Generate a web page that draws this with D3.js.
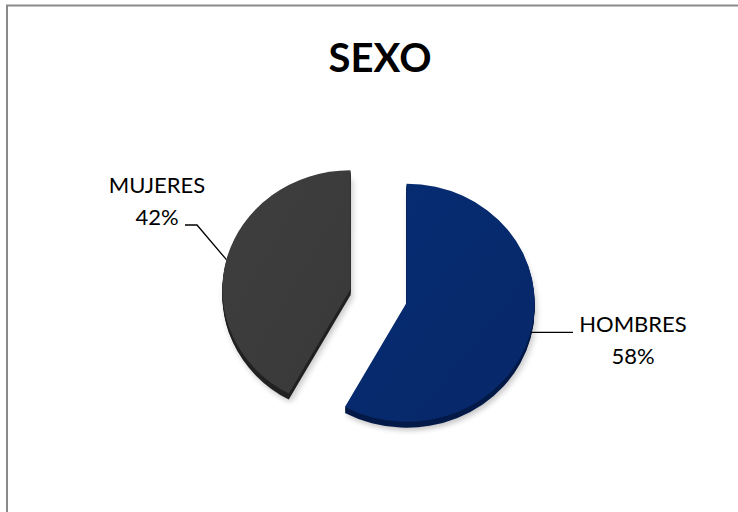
<!DOCTYPE html>
<html>
<head>
<meta charset="utf-8">
<script src="https://cdn.jsdelivr.net/npm/d3@7"></script>
<style>
  html, body { margin: 0; padding: 0; background: #fff; overflow: hidden; }
  svg { display: block; }
  text { font-family: Lato, "Open Sans", sans-serif; }
</style>
</head>
<body>
<svg id="chart" width="738" height="512"></svg>
<script>
// Distribution by sex
const categories = ["HOMBRES", "MUJERES"];
const values = [58, 42];
const percentLabels = ["58%", "42%"];
const title = "SEXO";

const colors = { HOMBRES: "#072a6e", MUJERES: "#3b3b3b" };
const sideColors = { HOMBRES: "#041a48", MUJERES: "#222222" };

const svg = d3.select("#chart");

// chart frame (only the top and left edges fall inside the view)
svg.append("path")
  .attr("d", "M7,520 V5.5 H760")
  .attr("fill", "none")
  .attr("stroke", "#8a8a8a")
  .attr("stroke-width", 2);

svg.append("text")
  .attr("x", 380).attr("y", 72)
  .attr("text-anchor", "middle")
  .attr("font-size", 40)
  .attr("font-weight", "bold")
  .attr("fill", "#000")
  .text(title);

const cx = 378.5, cy = 296;
const radius = 128;
const tilt = 0.93;      // vertical squash for the slight 3D view
const depth = 6;        // visible thickness of the pie
const explode = 29;

const data = categories.map((c, i) => ({ name: c, value: values[i], label: percentLabels[i] }));
const pie = d3.pie().sort(null).value(d => d.value).startAngle(0).endAngle(2 * Math.PI);
const arcs = pie(data);
const arc = d3.arc().innerRadius(0).outerRadius(radius);

const defs = svg.append("defs");
const blur = defs.append("filter").attr("id", "shadow").attr("x", "-20%").attr("y", "-20%").attr("width", "140%").attr("height", "140%");
blur.append("feGaussianBlur").attr("stdDeviation", 3);

arcs.forEach(a => {
  const g = defs.append("linearGradient").attr("id", "grad-" + a.data.name)
    .attr("x1", "0").attr("y1", "0").attr("x2", "1").attr("y2", "1");
  const base = d3.color(colors[a.data.name]);
  g.append("stop").attr("offset", "0%").attr("stop-color", base.brighter(0.12));
  g.append("stop").attr("offset", "100%").attr("stop-color", base.darker(0.12));
});

function offsetOf(a) {
  const mid = (a.startAngle + a.endAngle) / 2;
  return [Math.sin(mid) * explode, -Math.cos(mid) * explode];
}

const slices = svg.append("g");
arcs.forEach(a => {
  const [ox, oy] = offsetOf(a);
  // soft drop shadow
  slices.append("path")
    .attr("d", arc(a))
    .attr("transform", `translate(${cx + ox + 2},${cy + oy * tilt + depth + 3}) scale(1,${tilt})`)
    .attr("fill", "#000").attr("opacity", 0.22)
    .attr("filter", "url(#shadow)");
  // side thickness
  for (let k = depth; k > 0; k--) {
    slices.append("path")
      .attr("d", arc(a))
      .attr("transform", `translate(${cx + ox},${cy + oy * tilt + k}) scale(1,${tilt})`)
      .attr("fill", sideColors[a.data.name]);
  }
});
arcs.forEach(a => {
  const [ox, oy] = offsetOf(a);
  slices.append("path")
    .attr("d", arc(a))
    .attr("transform", `translate(${cx + ox},${cy + oy * tilt}) scale(1,${tilt})`)
    .attr("fill", `url(#grad-${a.data.name})`);
});

// leader lines and labels
const labelLayout = {
  HOMBRES: { elbow: [573, null], text: [633, 332] },
  MUJERES: { elbow: [197, 225], end: [185, 225], text: [157, 193] }
};

arcs.forEach(a => {
  const [ox, oy] = offsetOf(a);
  const mid = (a.startAngle + a.endAngle) / 2;
  const px = cx + ox + Math.sin(mid) * radius;
  const py = cy + (oy - Math.cos(mid) * radius) * tilt;
  const L = labelLayout[a.data.name];
  const pts = a.data.name === "HOMBRES"
    ? [[px, py], [L.elbow[0], py]]
    : [[px, py], L.elbow, L.end];
  svg.append("path")
    .attr("d", d3.line()(pts))
    .attr("fill", "none").attr("stroke", "#000").attr("stroke-width", 1.3);
  const t = svg.append("text")
    .attr("x", L.text[0]).attr("y", L.text[1])
    .attr("text-anchor", "middle")
    .attr("font-size", 22)
    .attr("fill", "#000");
  t.append("tspan").attr("x", L.text[0]).text(a.data.name);
  t.append("tspan").attr("x", L.text[0]).attr("dy", 32).text(a.data.label);
});
</script>
</body>
</html>
